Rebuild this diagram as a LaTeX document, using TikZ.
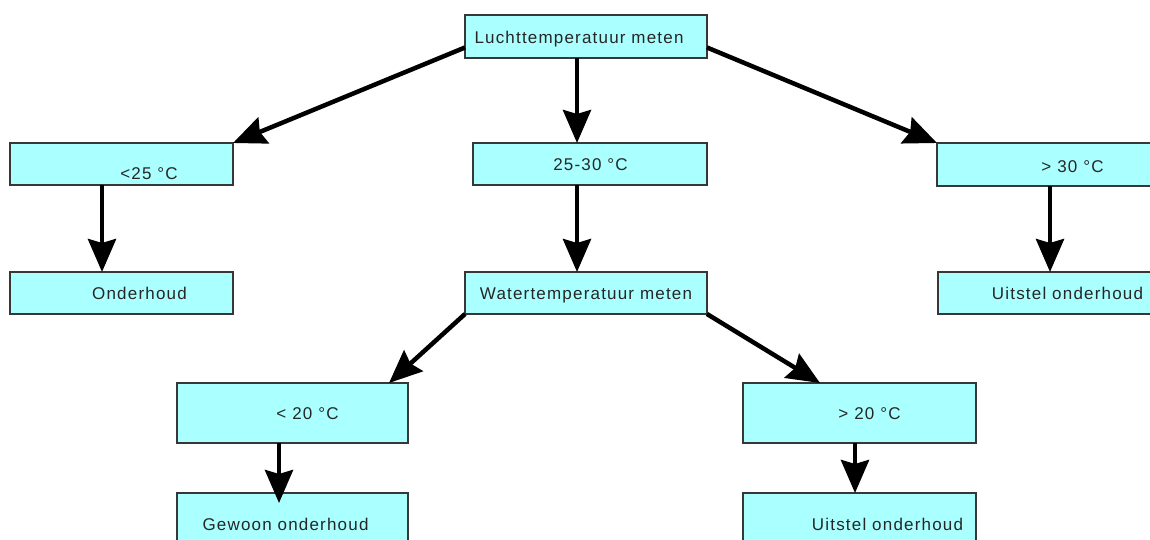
\documentclass[tikz,border=0pt]{standalone}
\usepackage{fontspec}
\setmainfont{Liberation Sans}[LetterSpace=7]
\usetikzlibrary{arrows.meta,calc}
\definecolor{boxfill}{RGB}{170,255,255}
\definecolor{boxline}{RGB}{55,55,55}
\tikzset{
  box/.style={draw=boxline, line width=1.1pt, fill=boxfill, inner sep=0pt, outer sep=0pt},
  txt/.style={inner sep=0pt, outer sep=0pt, text height=12.2pt, text depth=0pt, font=\fontsize{17pt}{19pt}\selectfont, text=black!85},
  arr/.style={line width=4.5pt, -{Stealth[length=33pt,width=28pt,inset=4pt]}}
}
\begin{document}
\begin{tikzpicture}[x=1pt,y=-1pt]
\useasboundingbox (0,0) rectangle (1150,540);
\clip (0,0) rectangle (1150,540);
% boxes
\node[box, minimum width=242pt, minimum height=43pt, label={[txt, xshift=-7pt, yshift=-0.5pt]center:Luchttemperatuur meten}] (top) at (586,36.5) {};
\node[box, minimum width=223pt, minimum height=42pt, label={[txt, xshift=27.5pt, yshift=-9.5pt]center:<25 °C}] (lt25) at (121.5,164) {};
\node[box, minimum width=234pt, minimum height=42pt, label={[txt, xshift=0.5pt, yshift=-0.5pt]center:25-30 °C}] (mid) at (590,164) {};
\node[box, minimum width=223pt, minimum height=43pt, label={[txt, xshift=24pt, yshift=-2pt]center:> 30 °C}] (gt30) at (1048.5,164.5) {};
\node[box, minimum width=223pt, minimum height=42pt, label={[txt, xshift=18pt]center:Onderhoud}] (ond) at (121.5,293) {};
\node[box, minimum width=242pt, minimum height=42pt, label={[txt]center:Watertemperatuur meten}] (water) at (586,293) {};
\node[box, minimum width=222pt, minimum height=42pt, label={[txt, xshift=18.5pt]center:Uitstel onderhoud}] (uit1) at (1049,293) {};
\node[box, minimum width=231pt, minimum height=60pt, label={[txt, xshift=15pt]center:< 20 °C}] (lt20) at (292.5,413) {};
\node[box, minimum width=233pt, minimum height=60pt, label={[txt, xshift=10pt]center:> 20 °C}] (gt20) at (859.5,413) {};
\node[box, minimum width=231pt, minimum height=67pt, label={[txt, xshift=-7pt, yshift=2pt]center:Gewoon onderhoud}] (gew) at (292.5,526.5) {};
\node[box, minimum width=233pt, minimum height=67pt, label={[txt, xshift=28pt, yshift=2pt]center:Uitstel onderhoud}] (uit2) at (859.5,526.5) {};
% arrows
\draw[arr] ([yshift=-11pt]top.west) -- (lt25.north east);
\draw[arr] ([yshift=-11pt]top.east) -- (gt30.north west);
\draw[arr] ([xshift=-9pt]top.south) -- ([xshift=-9pt]top.south |- mid.north);
\draw[arr] ([xshift=-19.5pt]lt25.south) -- ([xshift=-19.5pt]lt25.south |- ond.north);
\draw[arr] ([xshift=-13pt]mid.south) -- ([xshift=-13pt]mid.south |- water.north);
\draw[arr] ([xshift=1.5pt]gt30.south) -- ([xshift=1.5pt]gt30.south |- uit1.north);
\draw[arr] (water.south west) -- ([xshift=-19pt]lt20.north east);
\draw[arr] (water.south east) -- ([xshift=77pt]gt20.north west);
\coordinate (gewtip) at ($([xshift=-13.5pt]lt20.south |- gew.north)+(0,10)$);
\draw[arr] ([xshift=-13.5pt]lt20.south) -- (gewtip);
\draw[arr] ([xshift=-4.5pt]gt20.south) -- ([xshift=-4.5pt]gt20.south |- uit2.north);
\end{tikzpicture}
\end{document}
